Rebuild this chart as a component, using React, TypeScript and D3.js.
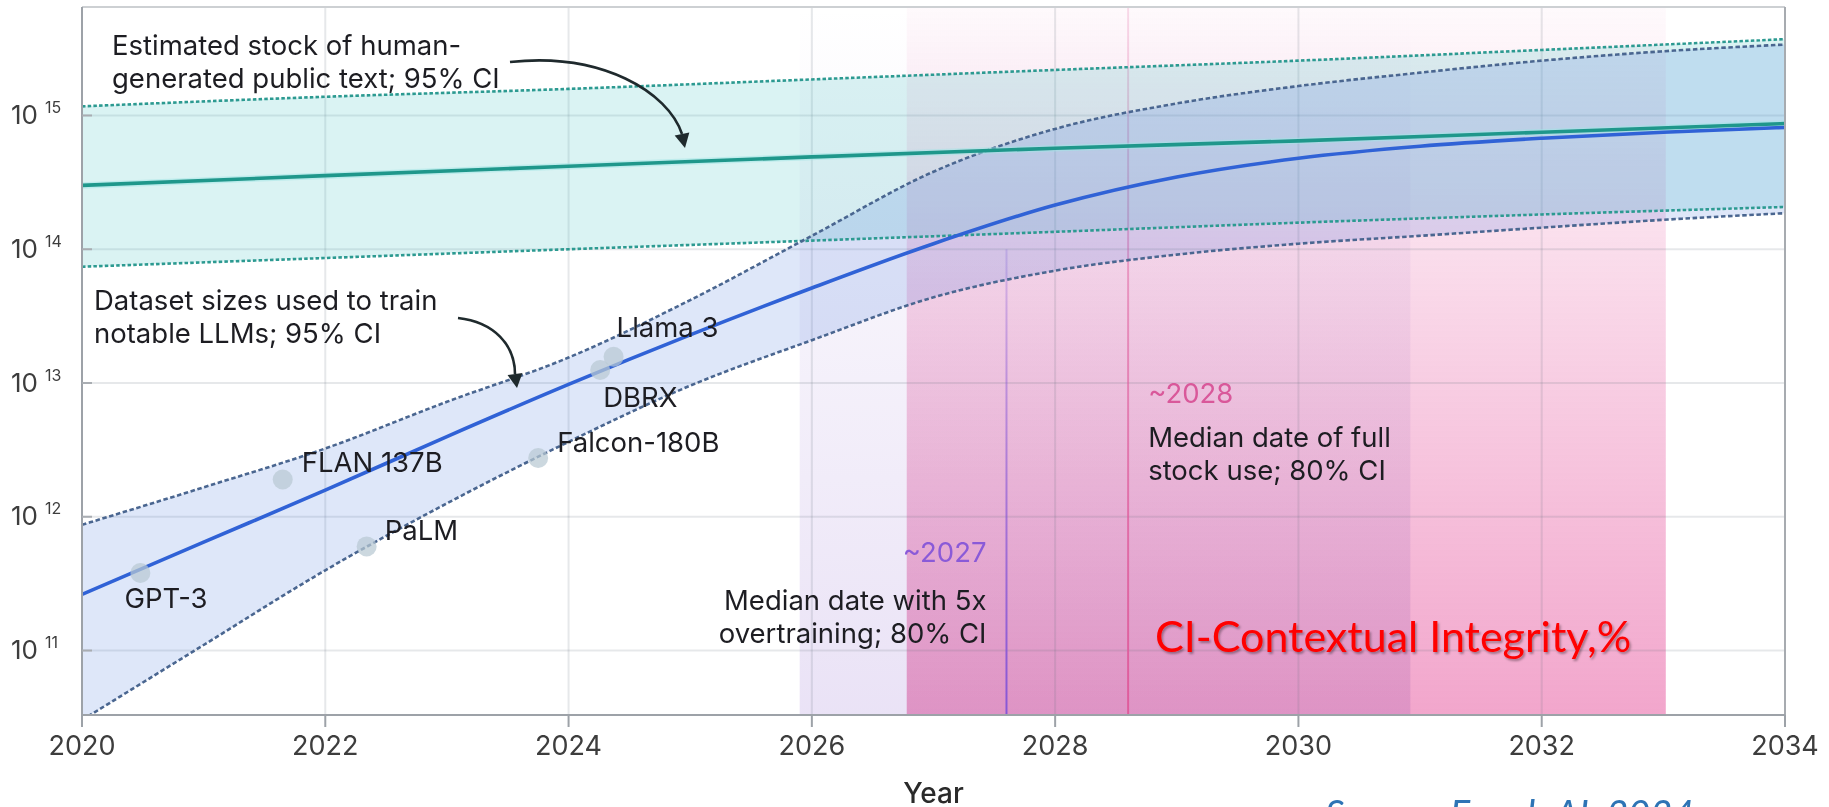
import React from 'react';
import * as d3 from 'd3';

// ---------- data ----------
const years = [2020, 2021, 2022, 2023, 2024, 2025, 2026, 2027, 2028, 2029, 2030, 2031, 2032, 2033, 2034];
const datasetMedian = [2.63e11, 6.46e11, 1.58e12, 3.98e12, 9.77e12, 2.29e13, 5.13e13, 1.1e14, 2.14e14, 3.47e14, 4.79e14, 5.89e14, 6.76e14, 7.5e14, 8.13e14];
const datasetUpper = [8.71e11, 1.66e12, 3.24e12, 7.24e12, 1.55e13, 4.17e13, 1.26e14, 3.8e14, 7.94e14, 1.23e15, 1.66e15, 2.09e15, 2.57e15, 3.02e15, 3.39e15];
const datasetLower = [3.02e10, 1.1e11, 3.98e11, 1.26e12, 3.63e12, 9.55e12, 2.09e13, 4.37e13, 6.92e13, 9.12e13, 1.1e14, 1.26e14, 1.45e14, 1.66e14, 1.86e14];

const stockYears = [2020, 2022, 2024, 2026, 2028, 2030, 2032, 2034];
const stockMedian = [3.0e14, 3.55e14, 4.17e14, 4.9e14, 5.69e14, 6.46e14, 7.5e14, 8.7e14];
const stockUpper = [1.17e15, 1.38e15, 1.58e15, 1.86e15, 2.19e15, 2.57e15, 3.09e15, 3.72e15];
const stockLower = [7.4e13, 8.6e13, 1.0e14, 1.16e14, 1.35e14, 1.58e14, 1.82e14, 2.07e14];

const models = ['GPT-3', 'FLAN 137B', 'PaLM', 'Falcon-180B', 'DBRX', 'Llama 3'];
const modelYears = [2020.48, 2021.65, 2022.34, 2023.75, 2024.26, 2024.37];
const modelTokens = [3.8e11, 1.9e12, 6.0e11, 2.75e12, 1.25e13, 1.57e13];

const xTicks = [2020, 2022, 2024, 2026, 2028, 2030, 2032, 2034];
const yTicks = [1e11, 1e12, 1e13, 1e14, 1e15];

const overtrainCI = [2025.9, 2030.92];
const overtrainMedian = 2027.6;
const fullStockCI = [2026.78, 2033.02];
const fullStockMedian = 2028.6;

const stockLabel = ['Estimated stock of human-', 'generated public text; 95% CI'];
const datasetLabel = ['Dataset sizes used to train', 'notable LLMs; 95% CI'];
const overtrainText = ['~2027', 'Median date with 5x', 'overtraining; 80% CI'];
const fullStockText = ['~2028', 'Median date of full', 'stock use; 80% CI'];
const overlayTitle = 'CI-Contextual Integrity,%';
const sourceText = 'Source: Epoch AI, 2024';
const xTitle = 'Year';

// ---------- layout ----------
const W = 1829;
const H = 807;
const M = { left: 82, right: 1785, top: 7, bottom: 715 };
// label offsets relative to each model point (layout only)
const labelOffsets: [number, number][] = [[-16, 35], [19, -7], [18, -6], [19, -6], [3, 37], [3, -20]];

const FONT = 'Inter, Roboto, sans-serif';

export default function App() {
  const x = d3.scaleLinear().domain([2020, 2034]).range([M.left, M.right]);
  const y = d3.scaleLog().domain([Math.pow(10, 10.518), Math.pow(10, 15.811)]).range([M.bottom, M.top]);

  const ds = years.map((yr, i) => ({ yr, m: datasetMedian[i], hi: datasetUpper[i], lo: datasetLower[i] }));
  const st = stockYears.map((yr, i) => ({ yr, m: stockMedian[i], hi: stockUpper[i], lo: stockLower[i] }));

  const curve = d3.curveMonotoneX;
  const area = d3.area<any>().x((d) => x(d.yr)).y0((d) => y(d.lo)).y1((d) => y(d.hi)).curve(curve);
  const lineM = d3.line<any>().x((d) => x(d.yr)).y((d) => y(d.m)).curve(curve);
  const lineHi = d3.line<any>().x((d) => x(d.yr)).y((d) => y(d.hi)).curve(curve);
  const lineLo = d3.line<any>().x((d) => x(d.yr)).y((d) => y(d.lo)).curve(curve);

  const arrowHead = (ex: number, ey: number, tx: number, ty: number, hw = 7.5) => {
    const dx = tx - ex, dy = ty - ey;
    const len = Math.hypot(dx, dy);
    const nx = -dy / len, ny = dx / len;
    return `M${tx},${ty}L${ex + nx * hw},${ey + ny * hw}L${ex - nx * hw},${ey - ny * hw}Z`;
  };

  const textCol = '#1d1d22';
  const tickCol = '#3d3d3d';

  const supers = (v: number) => String(Math.round(Math.log10(v)));

  return (
    <div style={{ position: 'absolute', left: 0, top: 0 }}>
      <svg width={W} height={H} style={{ display: 'block', overflow: 'hidden' }}>
        <defs>
          <linearGradient id="gPurple" gradientUnits="userSpaceOnUse" x1={0} y1={M.top} x2={0} y2={M.bottom}>
            <stop offset="0" stopColor="#9670d2" stopOpacity={0} />
            <stop offset="1" stopColor="#9670d2" stopOpacity={0.2} />
          </linearGradient>
          <linearGradient id="gPink" gradientUnits="userSpaceOnUse" x1={0} y1={M.top} x2={0} y2={M.bottom}>
            <stop offset="0" stopColor="#e54d99" stopOpacity={0.03} />
            <stop offset="1" stopColor="#e54d99" stopOpacity={0.5} />
          </linearGradient>
          <linearGradient id="gPurpleLine" gradientUnits="userSpaceOnUse" x1={0} y1={y(1e14)} x2={0} y2={M.bottom}>
            <stop offset="0" stopColor="#8757d6" stopOpacity={0.25} />
            <stop offset="1" stopColor="#8757d6" stopOpacity={1} />
          </linearGradient>
          <linearGradient id="gPinkLine" gradientUnits="userSpaceOnUse" x1={0} y1={M.top} x2={0} y2={M.bottom}>
            <stop offset="0" stopColor="#df5c9c" stopOpacity={0.2} />
            <stop offset="1" stopColor="#df5c9c" stopOpacity={1} />
          </linearGradient>
          <filter id="shadow" x="-5%" y="-20%" width="110%" height="150%">
            <feDropShadow dx="1.5" dy="2" stdDeviation="1.2" floodColor="#000" floodOpacity="0.35" />
          </filter>
          <clipPath id="plotClip">
            <rect x={M.left} y={M.top} width={M.right - M.left} height={M.bottom - M.top} />
          </clipPath>
        </defs>

        <rect x={0} y={0} width={W} height={H} fill="#ffffff" />

        {/* shaded CI regions */}
        <rect x={x(overtrainCI[0])} y={M.top} width={x(overtrainCI[1]) - x(overtrainCI[0])} height={M.bottom - M.top} fill="url(#gPurple)" />
        <rect x={x(fullStockCI[0])} y={M.top} width={x(fullStockCI[1]) - x(fullStockCI[0])} height={M.bottom - M.top} fill="url(#gPink)" style={{ mixBlendMode: 'multiply' }} />

        {/* grid */}
        <g stroke="rgba(100,110,125,0.16)" strokeWidth={2}>
          {xTicks.map((t) => (
            <line key={'gx' + t} x1={x(t)} x2={x(t)} y1={M.top} y2={M.bottom} />
          ))}
          {yTicks.map((t) => (
            <line key={'gy' + t} x1={M.left} x2={M.right} y1={y(t)} y2={y(t)} />
          ))}
        </g>

        {/* median date lines */}
        <line x1={x(overtrainMedian)} x2={x(overtrainMedian)} y1={y(1e14)} y2={M.bottom} stroke="url(#gPurpleLine)" strokeWidth={2} />
        <line x1={x(fullStockMedian)} x2={x(fullStockMedian)} y1={M.top} y2={M.bottom} stroke="url(#gPinkLine)" strokeWidth={2} />

        <g clipPath="url(#plotClip)">
          {/* bands */}
          <path d={area(st) || ''} fill="rgba(70,195,195,0.2)" />
          <path d={area(ds) || ''} fill="rgba(70,120,220,0.18)" />

          {/* CI dotted lines */}
          <g fill="none" strokeWidth={2.6} strokeDasharray="3.5 2.2">
            <path d={lineHi(st) || ''} stroke="#2c9a91" />
            <path d={lineLo(st) || ''} stroke="#2c9a91" />
            <path d={lineHi(ds) || ''} stroke="#4a6690" strokeDasharray="4.5 2.6" />
            <path d={lineLo(ds) || ''} stroke="#4a6690" strokeDasharray="4.5 2.6" />
          </g>

          {/* medians */}
          <path d={lineM(st) || ''} fill="none" stroke="#9fe6e6" strokeWidth={6.5} strokeOpacity={0.5} />
          <path d={lineM(st) || ''} fill="none" stroke="#1f978b" strokeWidth={3.6} />
          <path d={lineM(ds) || ''} fill="none" stroke="#3062d6" strokeWidth={3.6} />

          {/* model points */}
          {models.map((m, i) => (
            <circle key={'p' + m} cx={x(modelYears[i])} cy={y(modelTokens[i])} r={10} fill="#b9c9d3" fillOpacity={0.72} />
          ))}
        </g>

        {/* axes frame */}
        <line x1={M.left} x2={M.right} y1={M.top} y2={M.top} stroke="#cdd0d3" strokeWidth={2} />
        <line x1={M.right} x2={M.right} y1={M.top} y2={M.bottom} stroke="#a7abb0" strokeWidth={2} />
        <line x1={M.left} x2={M.left} y1={M.top} y2={M.bottom} stroke="#9da2a8" strokeWidth={2} />
        <line x1={M.left} x2={M.right} y1={M.bottom} y2={M.bottom} stroke="#9da2a8" strokeWidth={2} />
        {xTicks.map((t) => (
          <line key={'tx' + t} x1={x(t)} x2={x(t)} y1={M.bottom} y2={M.bottom + 12} stroke="#9da2a8" strokeWidth={2} />
        ))}
        {yTicks.map((t) => (
          <line key={'ty' + t} x1={M.left} x2={M.left + 10} y1={y(t)} y2={y(t)} stroke="#a9adb2" strokeWidth={2} />
        ))}

        {/* tick labels */}
        <g fontFamily={FONT} fill={tickCol}>
          {xTicks.map((t) => (
            <text key={'lx' + t} x={x(t)} y={755} textAnchor="middle" fontSize={27}>
              {t}
            </text>
          ))}
          {yTicks.map((t) => (
            <g key={'ly' + t}>
              <text x={38} y={y(t) + 8.5} textAnchor="end" fontSize={26}>10</text>
              <text x={45} y={y(t) - 2.5} fontSize={16}>{supers(t)}</text>
            </g>
          ))}
          <text x={(M.left + M.right) / 2} y={803} textAnchor="middle" fontSize={28} fontWeight={500} fill="#2a2a2a">
            {xTitle}
          </text>
        </g>

        {/* annotations */}
        <g fontFamily={FONT} fontSize={27.5} fill={textCol}>
          <text x={112} y={55}>{stockLabel[0]}</text>
          <text x={112} y={88}>{stockLabel[1]}</text>
          <text x={94} y={310}>{datasetLabel[0]}</text>
          <text x={94} y={343}>{datasetLabel[1]}</text>
          {models.map((m, i) => (
            <text key={'l' + m} x={x(modelYears[i]) + labelOffsets[i][0]} y={y(modelTokens[i]) + labelOffsets[i][1]}>
              {m}
            </text>
          ))}
          <text x={x(overtrainMedian) - 20} y={562} textAnchor="end" fill="#8a5ad8">{overtrainText[0]}</text>
          <text x={x(overtrainMedian) - 20} y={610} textAnchor="end">{overtrainText[1]}</text>
          <text x={x(overtrainMedian) - 20} y={643} textAnchor="end">{overtrainText[2]}</text>
          <text x={x(fullStockMedian) + 20} y={403} fill="#d9589a">{fullStockText[0]}</text>
          <text x={x(fullStockMedian) + 20} y={447}>{fullStockText[1]}</text>
          <text x={x(fullStockMedian) + 20} y={480}>{fullStockText[2]}</text>
        </g>

        {/* arrows */}
        <g stroke="#1f2a2d" strokeWidth={2.6} fill="none">
          <path d="M510,62 C602,52 668,92 682,134" />
          <path d="M458,318 C494,322 515,345 515,374" />
        </g>
        <g fill="#1f2a2d">
          <path d={arrowHead(682, 134, 685, 148)} />
          <path d={arrowHead(515, 374, 517, 388)} />
        </g>

        {/* overlay red title */}
        <text x={1155} y={652} fontFamily="Lato, 'Open Sans', sans-serif" fontSize={43} fill="#ff0000" filter="url(#shadow)">
          {overlayTitle}
        </text>

        {/* source */}
        <text x={1325} y={828} fontFamily="Lato, 'Open Sans', sans-serif" fontStyle="italic" fontSize={38} fill="#2e74b5">
          {sourceText}
        </text>
      </svg>
    </div>
  );
}
